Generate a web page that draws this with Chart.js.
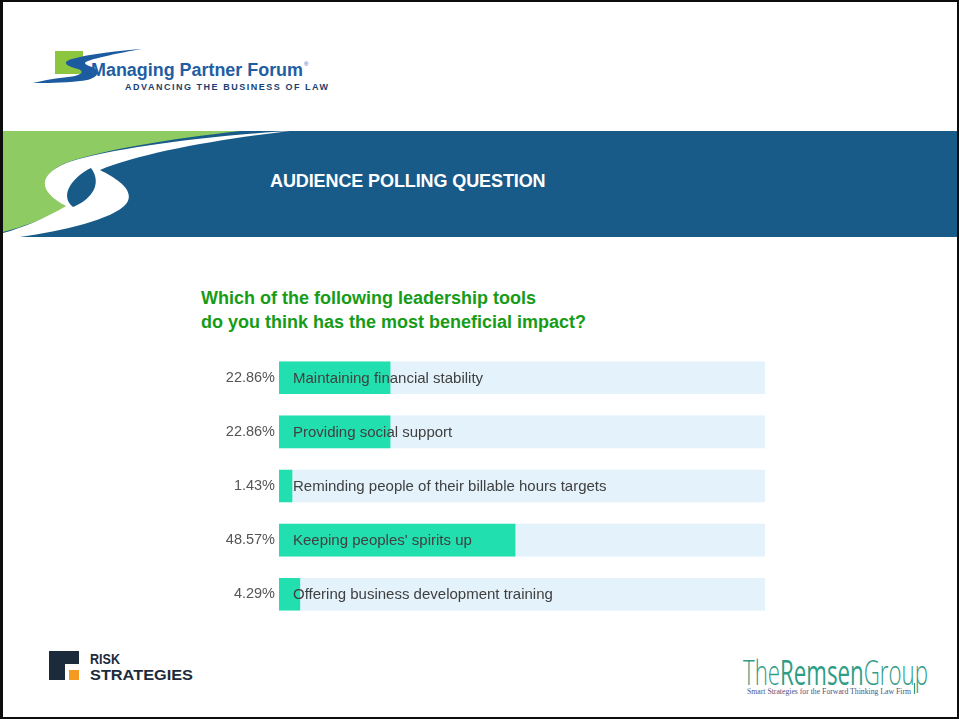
<!DOCTYPE html>
<html>
<head>
<meta charset="utf-8">
<title>Audience polling question</title>
<script src="https://cdn.jsdelivr.net/npm/chart.js@4.4.1/dist/chart.umd.min.js"></script>
<style>
  body { margin: 0; background: #fff; }
  #slide {
    position: relative; width: 959px; height: 719px; overflow: hidden;
    box-sizing: border-box; border: 2px solid #0d0d0d; border-left-width: 3px;
    font-family: "Liberation Sans", Arial, sans-serif;
  }
  #deco { position: absolute; left: -3px; top: -2px; }
  #banner-title {
    position: absolute; left: 267px; top: 169px; color: #fff;
    font-weight: bold; font-size: 18px; letter-spacing: -0.1px;
  }
  #question {
    position: absolute; left: 198px; top: 284px; color: #179c17;
    font-weight: bold; font-size: 18px; line-height: 24px;
  }
  #chart-box { position: absolute; left: 194px; top: 336px; width: 568px; height: 296px; }
</style>
</head>
<body>
<div id="slide">
  <svg id="deco" width="959" height="719" viewBox="0 0 959 719">
    <!-- header logo -->
    <rect x="55" y="51" width="28" height="23" fill="#8cc63e"/>
    <path d="M33,83 C45,80 58,78 68,77 C80,76 86,72 78,69 C66,66 61,62 72,59 C90,54 115,51 142,49
             C118,53 96,58 88,61 C82,63 86,65 92,67 C103,71 97,80 80,81 C62,83 45,83 33,83 Z" fill="#1d5ba0"/>
    <text x="91" y="76" font-family="Liberation Sans, Arial" font-weight="bold" font-size="18"
          fill="#1f5ea3" textLength="212" lengthAdjust="spacingAndGlyphs">Managing Partner Forum</text>
    <text x="304" y="66" font-family="Liberation Sans, Arial" font-size="6" fill="#1f5ea3">®</text>
    <text x="125" y="90" font-family="Liberation Sans, Arial" font-weight="bold" font-size="9"
          fill="#1b3f6e" textLength="203" lengthAdjust="spacing">ADVANCING THE BUSINESS OF LAW</text>

    <!-- banner -->
    <rect x="3" y="131" width="954" height="106" fill="#185a88"/>
    <path d="M3,131 H240 C170,139 100,150 66,163 C40,174 38,190 68,207 C45,219 22,227 3,232 Z" fill="#8ecb62"/>
    <path d="M290,131 C200,136 112,149 72,161 C40,172 34,189 66,206 C46,218 22,228 3,233 L3,237 L20,237
             C62,231 114,219 126,204 C136,191 118,179 100,170 C140,153 220,139 290,131 Z" fill="#ffffff"/>
    <path d="M91,168 C74,176 58,195 73,207 C88,201 104,186 91,168 Z" fill="#185a88"/>

    <!-- footer logos -->
    <path d="M49,651 H79 V664 H65 V680 H49 Z" fill="#1c2b3c"/>
    <rect x="69" y="670" width="10" height="10" fill="#f39a1f"/>
    <text x="90" y="664" font-family="Liberation Sans, Arial" font-weight="bold" font-size="15"
          fill="#1c2b3c" textLength="30" lengthAdjust="spacingAndGlyphs">RISK</text>
    <text x="90" y="680" font-family="Liberation Sans, Arial" font-weight="bold" font-size="15"
          fill="#1c2b3c" textLength="103" lengthAdjust="spacingAndGlyphs">STRATEGIES</text>

    <text x="743" y="685" font-family="Open Sans" font-size="34" fill="#2f9d86"
          textLength="185" lengthAdjust="spacingAndGlyphs"><tspan font-weight="300">The</tspan><tspan font-weight="400">Remsen</tspan><tspan font-weight="300">Group</tspan></text>
    <line x1="914.5" y1="683" x2="914.5" y2="694" stroke="#2f9d86" stroke-width="1.2"/>
    <text x="747" y="694" font-family="Liberation Serif, DejaVu Serif" font-size="9" fill="#4f527c"
          textLength="164" lengthAdjust="spacingAndGlyphs">Smart Strategies for the Forward Thinking Law Firm</text>
  </svg>

  <div id="banner-title">AUDIENCE POLLING QUESTION</div>
  <div id="question">Which of the following leadership tools<br>do you think has the most beneficial impact?</div>
  <div id="chart-box"><canvas id="pollChart"></canvas></div>
</div>

<script>
// poll answers, top to bottom
const answers = [
  'Maintaining financial stability',
  'Providing social support',
  'Reminding people of their billable hours targets',
  "Keeping peoples' spirits up",
  'Offering business development training'
];
const votes = [22.86, 22.86, 1.43, 48.57, 4.29];
const voteLabels = ['22.86%', '22.86%', '1.43%', '48.57%', '4.29%'];
const track = [100, 100, 100, 100, 100];

// writes the answer text over each bar
const answerText = {
  id: 'answerText',
  afterDatasetsDraw(chart) {
    const ctx = chart.ctx;
    const bars = chart.getDatasetMeta(0).data;
    ctx.save();
    ctx.font = '15px "Liberation Sans", Arial, sans-serif';
    ctx.fillStyle = '#404040';
    ctx.textBaseline = 'middle';
    bars.forEach((bar, i) => {
      ctx.fillText(answers[i], chart.chartArea.left + 14, bar.y + 1);
    });
    ctx.restore();
  }
};

const ctx = document.getElementById('pollChart').getContext('2d');
const chart = new Chart(ctx, {
  type: 'bar',
  data: {
    labels: answers,
    datasets: [{
      data: votes,
      backgroundColor: '#21dfae',
      barThickness: 32,
      minBarLength: 13,
      grouped: false,
      order: 0
    }, {
      data: track,
      backgroundColor: '#e4f2fc',
      barThickness: 32,
      grouped: false,
      order: 1
    }]
  },
  options: {
    indexAxis: 'y',
    responsive: true,
    maintainAspectRatio: false,
    animation: false,
    layout: { padding: 0 },
    plugins: { legend: { display: false }, tooltip: { enabled: false } },
    scales: {
      x: { min: 0, max: 100, display: false },
      y: {
        grid: { display: false, drawTicks: false },
        border: { display: false },
        afterFit(scale) { scale.width = 82; },
        ticks: {
          padding: 4,
          color: '#555',
          font: { family: '"Liberation Sans", Arial, sans-serif', size: 14.5 },
          callback: (value, index) => voteLabels[index]
        }
      }
    }
  },
  plugins: [answerText]
});
</script>
</body>
</html>
